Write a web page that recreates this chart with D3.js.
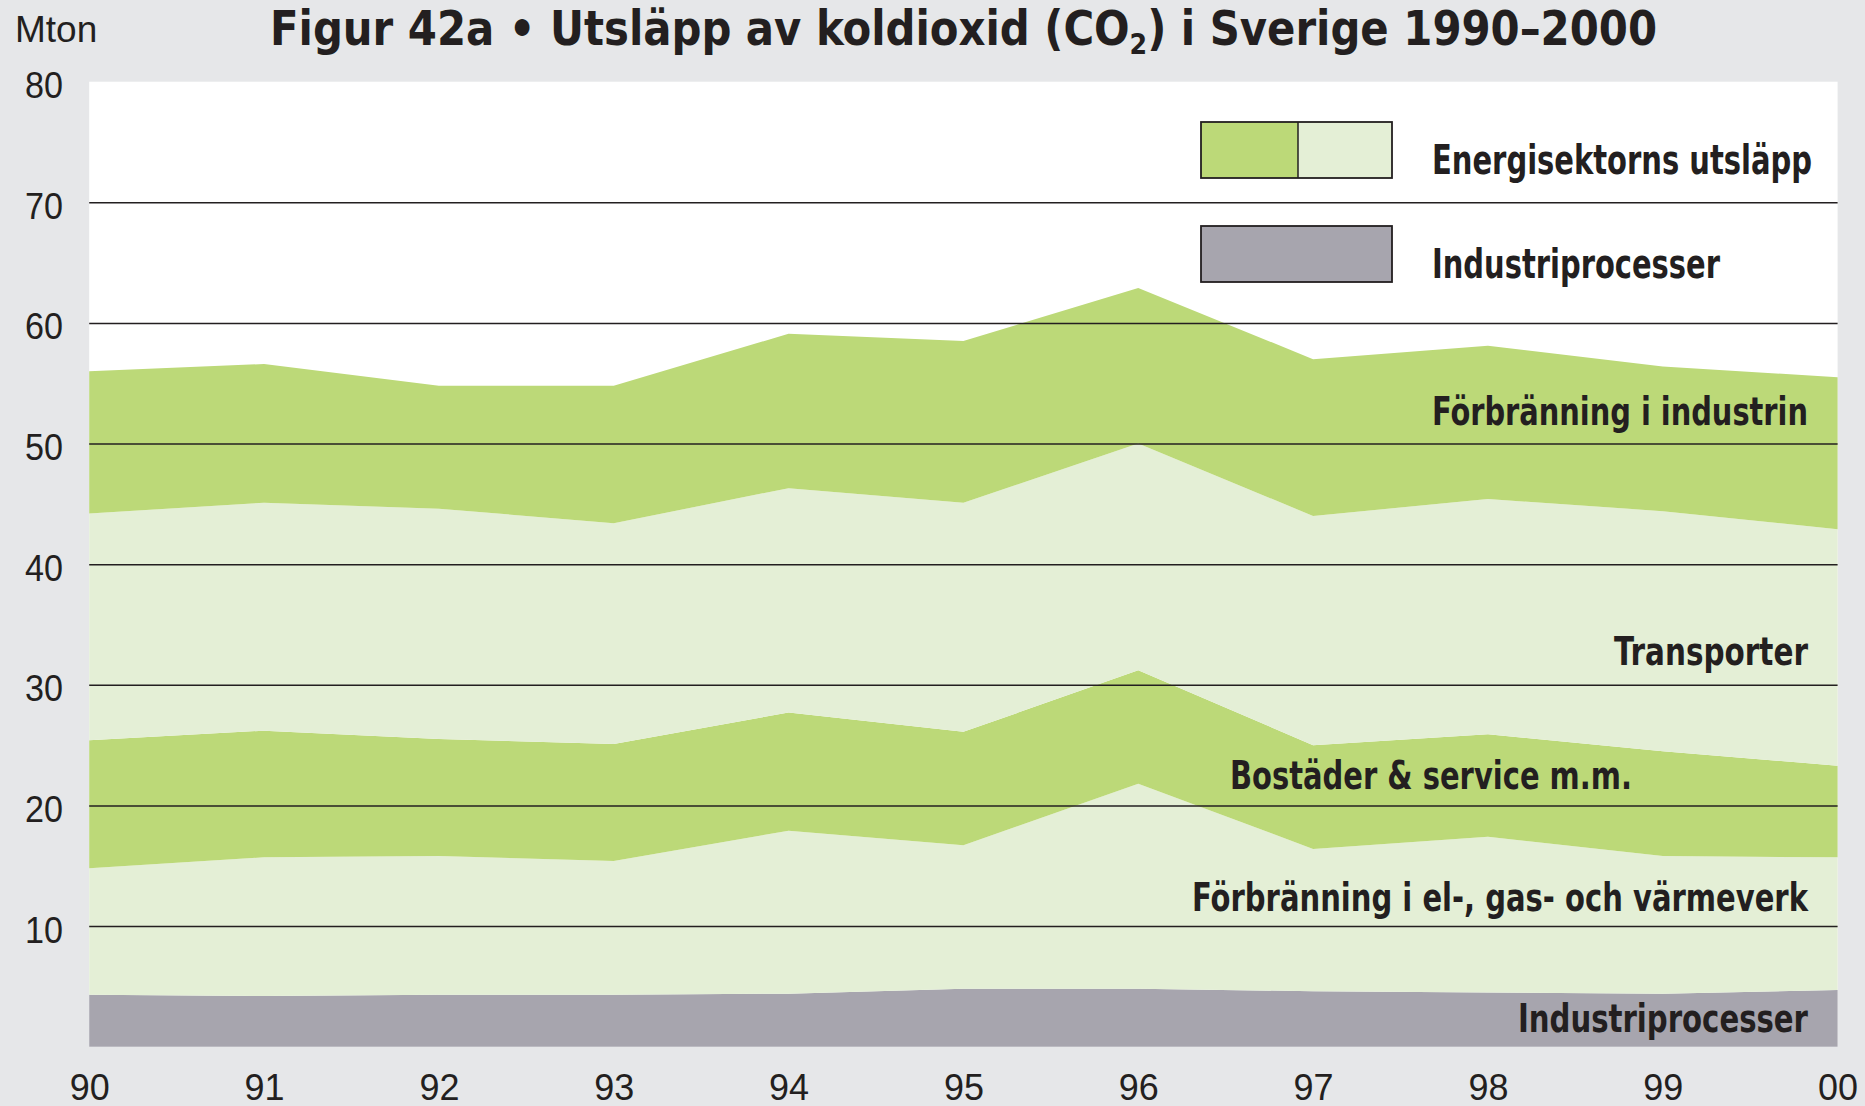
<!DOCTYPE html>
<html>
<head>
<meta charset="utf-8">
<script src="https://cdn.jsdelivr.net/npm/d3@7"></script>
<style>
  html, body { margin: 0; padding: 0; background: #e6e7e9; }
  svg { display: block; }
  .cond { font-family: "Liberation Sans Narrow", "Arial Narrow", "DejaVu Sans Condensed", sans-serif; font-weight: bold; fill: #231f20; }
  .reg { font-family: "Liberation Sans", Arial, Helvetica, sans-serif; fill: #231f20; }
</style>
</head>
<body>
<svg id="chart" width="1865" height="1106"></svg>
<script>
// Years on the x axis and their tick labels
const years = [1990, 1991, 1992, 1993, 1994, 1995, 1996, 1997, 1998, 1999, 2000];
const xTickLabels = ["90", "91", "92", "93", "94", "95", "96", "97", "98", "99", "00"];
const yTickValues = [10, 20, 30, 40, 50, 60, 70, 80];

// CO2 emissions per sector, Mton (stacked bottom to top)
const industriprocesser   = [4.3, 4.2, 4.3, 4.3, 4.4, 4.8, 4.8, 4.6, 4.5, 4.4, 4.7];
const elGasVarmeverk      = [10.5, 11.5, 11.5, 11.1, 13.5, 11.9, 17.0, 11.8, 12.9, 11.4, 11.0];
const bostaderService     = [10.6, 10.5, 9.7, 9.7, 9.8, 9.4, 9.4, 8.6, 8.5, 8.7, 7.6];
const transporter         = [18.8, 18.9, 19.1, 18.3, 18.6, 19.0, 18.8, 19.0, 19.5, 19.9, 19.6];
const forbranningIndustri = [11.8, 11.5, 10.2, 11.4, 12.8, 13.4, 12.9, 13.0, 12.7, 12.0, 12.6];

const seriesKeys = ["ind", "el", "bost", "trans", "indu"];
const seriesColors = {
  ind: "#a7a5ae",
  el: "#e4efd6",
  bost: "#bcd978",
  trans: "#e4efd6",
  indu: "#bcd978"
};

const table = years.map((yr, i) => ({
  year: yr,
  ind: industriprocesser[i],
  el: elGasVarmeverk[i],
  bost: bostaderService[i],
  trans: transporter[i],
  indu: forbranningIndustri[i]
}));

const svg = d3.select("#chart");
const W = 1865, H = 1106;
const plotLeft = 89.2, plotRight = 1837.6, plotTop = 81.7, plotBottom = 1046.7;

const x = d3.scaleLinear().domain([1990, 2000]).range([plotLeft, plotRight]);
const y = d3.scaleLinear().domain([0, 80]).range([plotBottom, plotTop]);

// background
svg.append("rect").attr("width", W).attr("height", H).attr("fill", "#e6e7e9");
// plot area
svg.append("rect")
  .attr("x", plotLeft).attr("y", plotTop)
  .attr("width", plotRight - plotLeft).attr("height", plotBottom - plotTop)
  .attr("fill", "#ffffff");

// stacked areas
const stacked = d3.stack().keys(seriesKeys)(table);
const area = d3.area()
  .x(d => x(d.data.year))
  .y0(d => y(d[0]))
  .y1(d => y(d[1]));

svg.append("g").selectAll("path")
  .data(stacked)
  .join("path")
  .attr("d", area)
  .attr("fill", d => seriesColors[d.key]);

// horizontal gridlines
const yAxis = d3.axisLeft(y)
  .tickValues(yTickValues.filter(v => v < 80))
  .tickSize(-(plotRight - plotLeft))
  .tickFormat("");
const gGrid = svg.append("g").attr("transform", `translate(${plotLeft},0)`).call(yAxis);
gGrid.select(".domain").remove();
gGrid.selectAll(".tick line").attr("stroke", "#231f20").attr("stroke-width", 1.5);

// y tick labels
svg.append("g").selectAll("text")
  .data(yTickValues)
  .join("text")
  .attr("class", "reg")
  .attr("x", 63)
  .attr("y", d => y(d) + 16.5)
  .attr("text-anchor", "end")
  .attr("font-size", 37)
  .attr("textLength", 38)
  .attr("lengthAdjust", "spacingAndGlyphs")
  .text(d => d);

// x tick labels
const xAxis = d3.axisBottom(x)
  .tickValues(years)
  .tickSize(0)
  .tickFormat((d, i) => xTickLabels[i]);
const gX = svg.append("g").attr("transform", `translate(0,${plotBottom})`).call(xAxis);
gX.select(".domain").remove();
gX.selectAll(".tick text")
  .attr("class", "reg")
  .attr("dy", null)
  .attr("y", 53)
  .attr("font-size", 37)
  .attr("textLength", 40)
  .attr("lengthAdjust", "spacingAndGlyphs")
  .attr("fill", "#231f20");

// unit label
svg.append("text").attr("class", "reg")
  .attr("x", 15).attr("y", 41.5)
  .attr("font-size", 37)
  .text("Mton");

// title
const title = svg.append("text").attr("class", "cond")
  .attr("x", 270).attr("y", 45)
  .attr("font-size", 48)
  .attr("textLength", 1387)
  .attr("lengthAdjust", "spacingAndGlyphs");
title.append("tspan").text("Figur 42a • Utsläpp av koldioxid (CO");
title.append("tspan").attr("font-size", 29).attr("dy", 9).text("2");
title.append("tspan").attr("dy", -9).text(") i Sverige 1990–2000");

// series labels inside the chart
const labels = [
  { text: "Förbränning i industrin", x: 1808, y: 425, anchor: "end", w: 376 },
  { text: "Transporter", x: 1808, y: 665, anchor: "end", w: 194 },
  { text: "Bostäder & service m.m.", x: 1230, y: 789, anchor: "start", w: 402 },
  { text: "Förbränning i el-, gas- och värmeverk", x: 1808, y: 911, anchor: "end", w: 616 },
  { text: "Industriprocesser", x: 1808, y: 1032, anchor: "end", w: 290 }
];
svg.append("g").selectAll("text")
  .data(labels)
  .join("text")
  .attr("class", "cond")
  .attr("x", d => d.x).attr("y", d => d.y)
  .attr("text-anchor", d => d.anchor)
  .attr("font-size", 39)
  .attr("textLength", d => d.w)
  .attr("lengthAdjust", "spacingAndGlyphs")
  .text(d => d.text);

// legend
const lg = svg.append("g");
lg.append("rect").attr("x", 1201).attr("y", 122).attr("width", 97).attr("height", 56)
  .attr("fill", "#bcd978");
lg.append("rect").attr("x", 1298).attr("y", 122).attr("width", 94).attr("height", 56)
  .attr("fill", "#e4efd6");
lg.append("rect").attr("x", 1201).attr("y", 122).attr("width", 191).attr("height", 56)
  .attr("fill", "none").attr("stroke", "#231f20").attr("stroke-width", 1.8);
lg.append("line").attr("x1", 1298).attr("x2", 1298).attr("y1", 122).attr("y2", 178)
  .attr("stroke", "#231f20").attr("stroke-width", 1.5);
lg.append("rect").attr("x", 1201).attr("y", 226).attr("width", 191).attr("height", 56)
  .attr("fill", "#a7a5ae").attr("stroke", "#231f20").attr("stroke-width", 1.8);
lg.append("text").attr("class", "cond")
  .attr("x", 1432).attr("y", 173.5).attr("font-size", 41)
  .attr("textLength", 380).attr("lengthAdjust", "spacingAndGlyphs")
  .text("Energisektorns utsläpp");
lg.append("text").attr("class", "cond")
  .attr("x", 1432).attr("y", 278).attr("font-size", 41)
  .attr("textLength", 288).attr("lengthAdjust", "spacingAndGlyphs")
  .text("Industriprocesser");
</script>
</body>
</html>
